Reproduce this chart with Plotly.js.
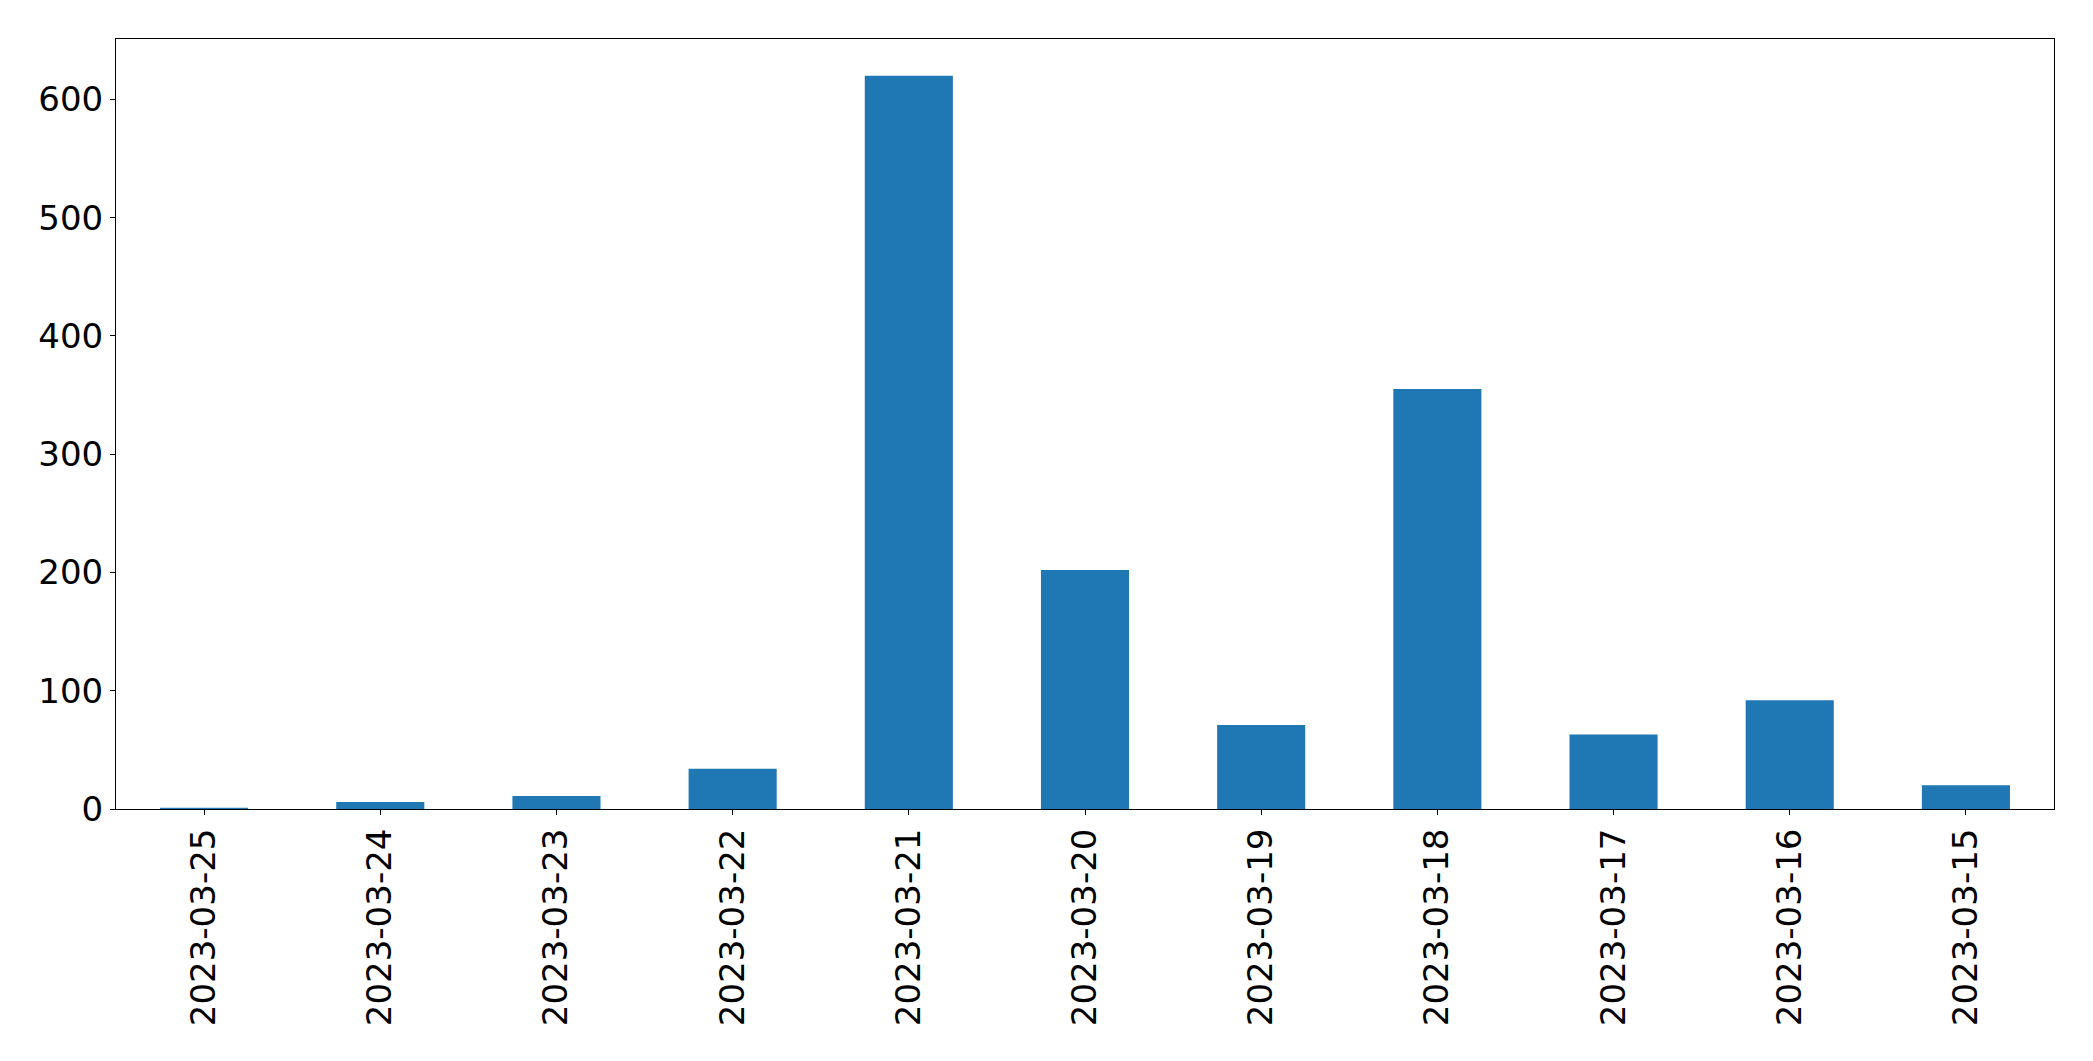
<!DOCTYPE html>
<html>
<head>
<meta charset="utf-8">
<script src="https://cdn.plot.ly/plotly-3.0.1.min.js"></script>
<style>html,body{margin:0;padding:0;background:#fff;}#chart{width:2093px;height:1061px;}</style>
</head>
<body>
<div id="chart"></div>
<script>
const categories = ["2023-03-25","2023-03-24","2023-03-23","2023-03-22","2023-03-21","2023-03-20","2023-03-19","2023-03-18","2023-03-17","2023-03-16","2023-03-15"];
const counts = [1, 6, 11, 34, 620, 202, 71, 355, 63, 92, 20];
const yTicks = [0, 100, 200, 300, 400, 500, 600];

const trace = {
  type: 'bar',
  x: categories,
  y: counts,
  width: 0.5,
  marker: {color: '#1f77b4', line: {width: 0}},
  hoverinfo: 'x+y'
};

const fontFam = 'DejaVu Sans, sans-serif';
const layout = {
  width: 2093,
  height: 1061,
  margin: {l: 116, r: 39, t: 39, b: 252, pad: 0},
  paper_bgcolor: '#fff',
  plot_bgcolor: '#fff',
  showlegend: false,
  bargap: 0.5,
  xaxis: {
    type: 'category',
    range: [-0.5, categories.length - 0.5],
    tickangle: -90,
    ticks: 'outside',
    ticklen: 5,
    tickwidth: 1,
    tickcolor: '#000',
    showline: true,
    mirror: true,
    linecolor: '#000',
    linewidth: 1,
    showgrid: false,
    zeroline: false,
    tickfont: {family: fontFam, size: 34, color: '#000'}
  },
  yaxis: {
    range: [0, 651],
    tickmode: 'array',
    tickvals: yTicks,
    ticktext: yTicks.map(String),
    ticks: 'outside',
    ticklen: 5,
    tickwidth: 1,
    tickcolor: '#000',
    showline: true,
    mirror: true,
    linecolor: '#000',
    linewidth: 1,
    showgrid: false,
    zeroline: false,
    tickfont: {family: fontFam, size: 34, color: '#000'}
  }
};

Plotly.newPlot('chart', [trace], layout, {displayModeBar: false, staticPlot: true});
</script>
</body>
</html>
